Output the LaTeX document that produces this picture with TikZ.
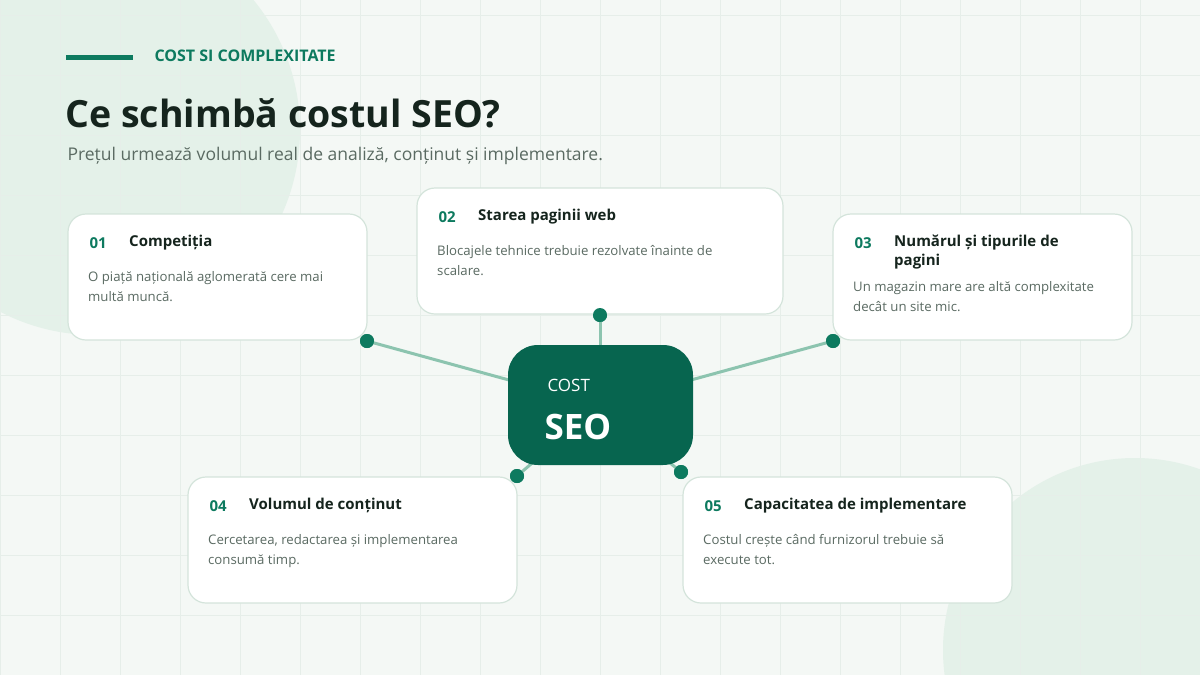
\documentclass[tikz,border=0pt]{standalone}
\usepackage{fontspec}
\setmainfont{Open Sans}
\definecolor{bgc}{HTML}{F4F8F5}
\definecolor{blob}{HTML}{E4F1E9}
\definecolor{gridc}{HTML}{E6EEE9}
\definecolor{brand}{HTML}{0D7A5F}
\definecolor{hubc}{HTML}{07654F}
\definecolor{linkc}{HTML}{8CC4AF}
\definecolor{inkc}{HTML}{15241D}
\definecolor{greyc}{HTML}{5A6A62}
\definecolor{edgec}{HTML}{D4E4DB}
\tikzset{
  card/.style={draw=edgec, line width=1.2, fill=white, rounded corners=18},
  num/.style={anchor=base west, text=brand, font=\fontsize{15}{18}\selectfont\bfseries},
  head/.style={anchor=north west, inner sep=0, text=inkc, font=\fontsize{15}{19}\selectfont\bfseries, align=left},
  body/.style={anchor=north west, text=greyc, font=\fontsize{13.2}{20.5}\selectfont, align=left, inner sep=0},
  dot/.style={circle, fill=brand, inner sep=0, minimum size=14},
  link/.style={draw=linkc, line width=3}
}
% one card: name, x0, y0, x1, y1, number, heading, body, body drop
\newcommand{\seocard}[9]{
  \draw[card] (#2,#3) rectangle (#4,#5);
  \node[num] (#1n) at (#2+18,#3+34) {#6};
  \node[head] (#1h) at (#2+61,#3+21) {#7};
  \node[body] (#1b) at (#2+20,#3+57+#9) {#8};
}
\begin{document}
\begin{tikzpicture}[x=1pt,y=-1pt]
  \fill[bgc] (0,0) rectangle (1200,675);
  \useasboundingbox (0,0) rectangle (1200,675);
  \begin{scope}
    \clip (0,0) rectangle (1200,675);
    \fill[blob] (95,130) circle (205);
    \fill[blob] (1135,650) circle (192);
    \foreach \x in {0,60,...,1200}
      \draw[gridc, line width=0.8] (\x,0) -- (\x,675);
    \foreach \y in {15,75,...,675}
      \draw[gridc, line width=0.8] (0,\y) -- (1200,\y);
  \end{scope}

  % header
  \draw[brand, line width=5] (66,57) -- (133,57);
  \node[anchor=west, text=brand, font=\fontsize{16}{19}\selectfont\bfseries] (kicker) at (151,56) {COST SI COMPLEXITATE};
  \node[anchor=base west, text=inkc, font=\fontsize{37.5}{44}\selectfont\bfseries] (title) at (62,127) {Ce schimbă costul SEO?};
  \node[anchor=base west, text=greyc, font=\fontsize{17.5}{22}\selectfont] (sub) at (64,160) {Prețul urmează volumul real de analiză, conținut și implementare.};

  % links
  \coordinate (c) at (600,405);
  \node[dot] (d1) at (367,341) {};
  \node[dot] (d2) at (600,315) {};
  \node[dot] (d3) at (833,341) {};
  \node[dot] (d4) at (517,476) {};
  \node[dot] (d5) at (681,472) {};
  \foreach \d in {d1,d2,d3,d4,d5}
    \draw[link] (\d.center) -- (c);

  % cards
  \seocard{k1}{68}{214}{367}{340}{01}{Competiția}{O piață națională aglomerată cere mai\\multă muncă.}{0}
  \seocard{k2}{417}{188}{783}{314}{02}{Starea paginii web}{Blocajele tehnice trebuie rezolvate înainte de\\scalare.}{0}
  \seocard{k3}{833}{214}{1132}{340}{03}{Numărul și tipurile de\\pagini}{Un magazin mare are altă complexitate\\decât un site mic.}{10}
  \seocard{k4}{188}{477}{517}{603}{04}{Volumul de conținut}{Cercetarea, redactarea și implementarea\\consumă timp.}{0}
  \seocard{k5}{683}{477}{1012}{603}{05}{Capacitatea de implementare}{Costul crește când furnizorul trebuie să\\execute tot.}{0}
  \foreach \d in {d1,d2,d3,d4,d5}
    \node[dot] at (\d) {};

  % hub
  \fill[hubc, rounded corners=30] (508,345) rectangle (693,465);
  \node[anchor=base west, text=white, font=\fontsize{17}{20}\selectfont] (hubtop) at (544,391) {COST};
  \node[anchor=base west, text=white, font=\fontsize{35}{40}\selectfont\bfseries] (hub) at (541,439) {SEO};
\end{tikzpicture}
\end{document}
